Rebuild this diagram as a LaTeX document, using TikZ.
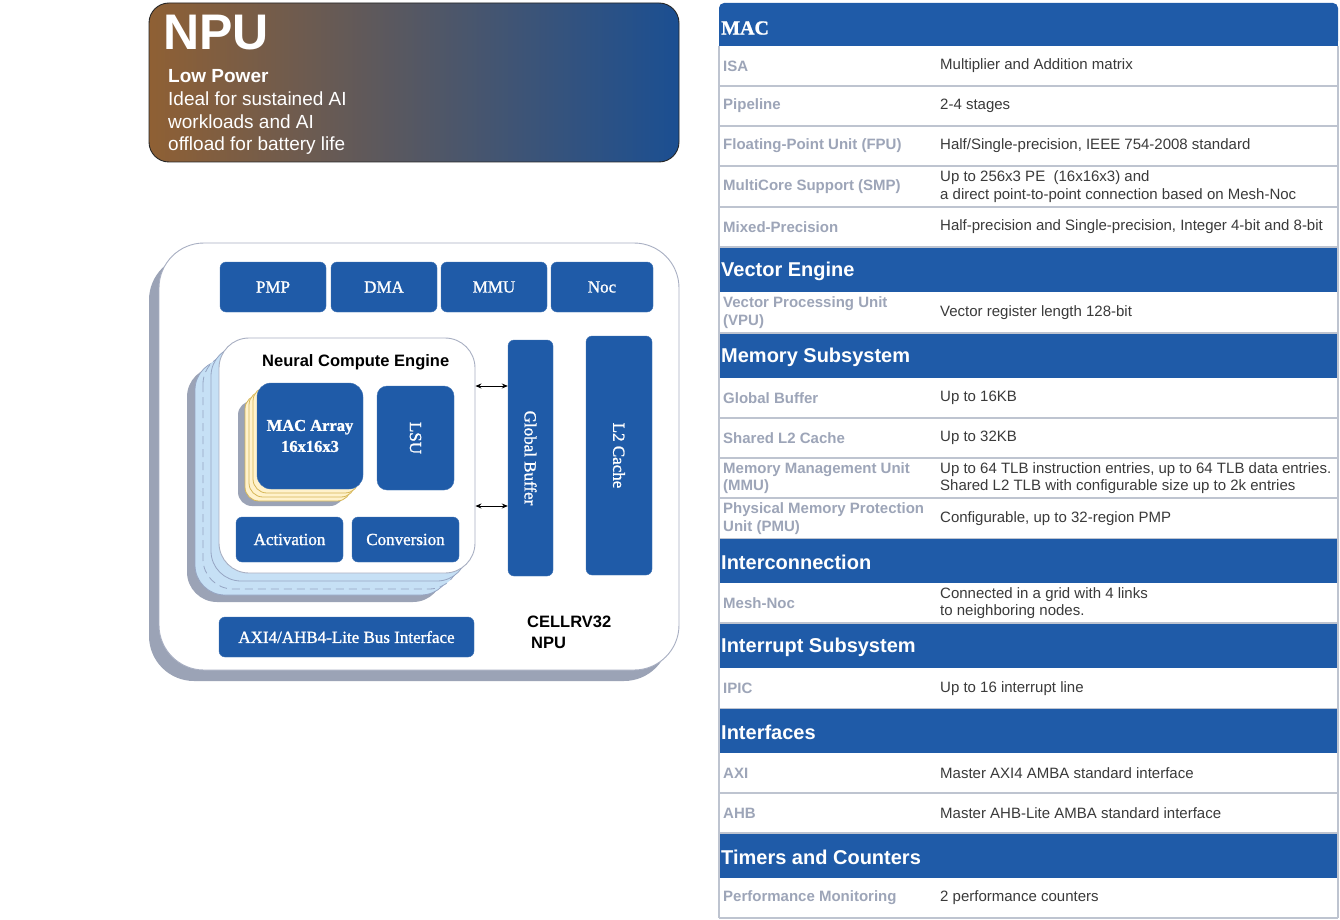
\documentclass[tikz,border=0pt]{standalone}
\usepackage{fontspec}
\setmainfont{Liberation Sans}
\newfontfamily\blkserif[FakeBold=1.2]{Liberation Serif}
\usetikzlibrary{arrows.meta}

\definecolor{npublue}{RGB}{31,91,168}
\definecolor{gradL}{RGB}{143,96,52}
\definecolor{gradR}{RGB}{27,79,146}
\definecolor{shadowgray}{RGB}{155,163,182}
\definecolor{outline}{RGB}{168,175,194}
\definecolor{layerblue}{RGB}{198,224,245}
\definecolor{layeredge}{RGB}{150,165,195}
\definecolor{macyellow}{RGB}{255,242,204}
\definecolor{macedge}{RGB}{214,182,86}
\definecolor{labelgray}{RGB}{157,165,184}
\definecolor{valuegray}{RGB}{58,58,58}
\definecolor{rowline}{RGB}{190,196,208}

\tikzset{
  blk/.style={fill=npublue, draw=npublue!85!white, rounded corners=6, text=white,
    font=\blkserif\fontsize{17}{20}\selectfont, inner sep=0, align=center},
  layer/.style={fill=layerblue, draw=layeredge, line width=0.8, rounded corners=30},
  macsheet/.style={fill=macyellow, draw=macedge, line width=0.8, rounded corners=14},
  dbl/.style={{Stealth[length=6pt,width=5pt]}-{Stealth[length=6pt,width=5pt]}, line width=0.9, black},
  hdrtxt/.style={anchor=west, inner sep=0, text=white, font=\bfseries\fontsize{20}{24}\selectfont},
  celllabel/.style={anchor=west, inner sep=0, align=left, text=labelgray,
    font=\bfseries\fontsize{15}{17.5}\selectfont},
  cellvalue/.style={anchor=west, inner sep=0, align=left, text=valuegray,
    font=\fontsize{15}{17.5}\selectfont},
  rowsep/.style={draw=rowline, line width=1.6},
  bannertxt/.style={anchor=base west, inner sep=0, text=white, font=\fontsize{19}{22}\selectfont},
  vlabel/.style={rotate=-90, text=white, font=\blkserif\fontsize{17}{20}\selectfont}
}

% table helpers: header band and two-column body row
\newcommand\hdrband[4]{%
  \fill[npublue] (719,#2) rectangle (1338,#3);
  \node[hdrtxt] (#1) at (721,{(#2+#3)/2+1}) {#4};}
\newcommand\tabrow[5]{%
  \draw[rowsep] (719,#3) -- (1338,#3);
  \node[celllabel] (#1l) at (723,{(#2+#3)/2}) {#4};
  \node[cellvalue] (#1v) at (940,{(#2+#3)/2}) {#5};}

\begin{document}
\begin{tikzpicture}[x=1pt,y=-1pt]
\useasboundingbox (0,0) rectangle (1340,920);
\fill[white] (0,0) rectangle (1340,920);

% ---------- banner ----------
\node[draw=black!85, line width=0.9, rounded corners=20, left color=gradL, right color=gradR,
      minimum width=530, minimum height=159, inner sep=0] (banner) at (414,82.5) {};
\node[anchor=base west, inner sep=0, text=white, font=\bfseries\fontsize{50}{50}\selectfont] (npuT) at (163,50) {NPU};
\node[bannertxt, font=\bfseries\fontsize{19}{22}\selectfont] (lp) at (168,83) {Low Power};
\node[bannertxt] (l1) at (168,106) {Ideal for sustained AI};
\node[bannertxt] (l2) at (168,128.5) {workloads and AI};
\node[bannertxt] (l3) at (168,151) {offload for battery life};

% ---------- NPU block ----------
\fill[shadowgray, rounded corners=45] (149,255) rectangle (669,681);
\node[draw=outline, line width=0.9, fill=white, rounded corners=45,
      minimum width=520, minimum height=427, inner sep=0] (npubox) at (419,456.5) {};

\node[blk, minimum width=106, minimum height=50] (pmp) at (273,287) {PMP};
\node[blk, minimum width=106, minimum height=50] (dma) at (384,287) {DMA};
\node[blk, minimum width=106, minimum height=50] (mmu) at (494,287) {MMU};
\node[blk, minimum width=102, minimum height=50] (noc) at (602,287) {Noc};

% stacked compute engines
\fill[shadowgray, rounded corners=30] (187,367) rectangle (443,602);
\draw[layer] (195,360) rectangle (451,595);
\draw[layer, dash pattern=on 8pt off 5pt] (203,354) rectangle (459,589);
\draw[layer] (211,346) rectangle (467,581);
\node[fill=white, draw=outline, line width=0.9, rounded corners=30,
      minimum width=256, minimum height=235, inner sep=0] (nce) at (347,455.5) {};
\node[anchor=base west, inner sep=0, font=\bfseries\fontsize{16.5}{20}\selectfont] (nceT) at (262,366) {Neural Compute Engine};

% stacked MAC arrays
\fill[shadowgray, rounded corners=14] (238,401) rectangle (344,506);
\draw[macsheet] (245,395) rectangle (351,501);
\draw[macsheet] (249,391) rectangle (355,497);
\draw[macsheet] (253,387) rectangle (359,493);
\node[blk, rounded corners=14, minimum width=106, minimum height=106,
      font=\blkserif\bfseries\fontsize{16.5}{21}\selectfont] (mac) at (310,436) {MAC Array\\16x16x3};

\node[blk, rounded corners=10, minimum width=77, minimum height=104] (lsu) at (415.5,438) {};
\node[vlabel] (lsuT) at (lsu.center) {LSU};
\node[blk, minimum width=107, minimum height=45] (act) at (289.5,539.5) {Activation};
\node[blk, minimum width=107, minimum height=45] (conv) at (405.5,539.5) {Conversion};

\node[blk, minimum width=45, minimum height=236] (gb) at (530.5,458) {};
\node[vlabel] (gbT) at (gb.center) {Global Buffer};
\node[blk, minimum width=66, minimum height=239] (l2) at (619,455.5) {};
\node[vlabel] (l2T) at (l2.center) {L2 Cache};

\coordinate (ya) at (0,386);
\coordinate (yb) at (0,506);
\draw[dbl] (nce.east |- ya) -- (gb.west |- ya);
\draw[dbl] (nce.east |- yb) -- (gb.west |- yb);

\node[blk, minimum width=255, minimum height=40] (bus) at (346.5,637) {AXI4/AHB4-Lite Bus Interface};
\node[anchor=base west, inner sep=0, font=\bfseries\fontsize{16.5}{20}\selectfont] (cell1) at (527,627) {CELLRV32};
\node[anchor=base west, inner sep=0, font=\bfseries\fontsize{16.5}{20}\selectfont] (cell2) at (531,648) {NPU};

% ---------- feature table ----------
\fill[npublue, rounded corners=5] (719,3) rectangle (1338,46);
\fill[npublue] (719,25) rectangle (1338,46);
\node[hdrtxt, font=\blkserif\bfseries\fontsize{20}{24}\selectfont] (hmac) at (721,28) {MAC};
\tabrow{isa}{46}{86}{ISA}{Multiplier and Addition matrix}
\tabrow{pipe}{86}{126}{Pipeline}{2-4 stages}
\tabrow{fpu}{126}{166}{Floating-Point Unit (FPU)}{Half/Single-precision, IEEE 754-2008 standard}
\tabrow{smp}{166}{207}{MultiCore Support (SMP)}{Up to 256x3 PE\ \ (16x16x3) and\\ a direct point-to-point connection based on Mesh-Noc}
\tabrow{mix}{207}{247}{Mixed-Precision}{Half-precision and Single-precision, Integer 4-bit and 8-bit}
\hdrband{hvec}{248}{292}{Vector Engine}
\tabrow{vpu}{292}{333}{Vector Processing Unit\\(VPU)}{Vector register length 128-bit}
\hdrband{hmem}{334}{378}{Memory Subsystem}
\tabrow{gbuf}{378}{418}{Global Buffer}{Up to 16KB}
\tabrow{shl2}{418}{458}{Shared L2 Cache}{Up to 32KB}
\tabrow{mmur}{458}{498}{Memory Management Unit\\(MMU)}{Up to 64 TLB instruction entries, up to 64 TLB data entries.\\Shared L2 TLB with configurable size up to 2k entries}
\tabrow{pmu}{498}{539}{Physical Memory Protection\\Unit (PMU)}{Configurable, up to 32-region PMP}
\hdrband{hint}{539}{583}{Interconnection}
\tabrow{mesh}{583}{623}{Mesh-Noc}{Connected in a grid with 4 links\\to neighboring nodes.}
\hdrband{hirq}{624}{668}{Interrupt Subsystem}
\tabrow{ipic}{668}{709}{IPIC}{Up to 16 interrupt line}
\hdrband{hif}{709}{753}{Interfaces}
\tabrow{axi}{753}{793}{AXI}{Master AXI4 AMBA standard interface}
\tabrow{ahb}{793}{833}{AHB}{Master AHB-Lite AMBA standard interface}
\hdrband{htc}{834}{878}{Timers and Counters}
\tabrow{perf}{878}{918}{Performance Monitoring}{2 performance counters}

% table side borders
\draw[rowsep] (719,46) -- (719,918);
\draw[rowsep] (1338,46) -- (1338,918);
\end{tikzpicture}
\end{document}
